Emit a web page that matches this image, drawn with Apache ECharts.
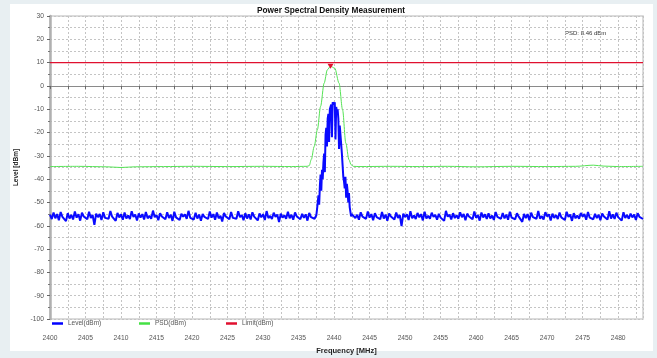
<!DOCTYPE html>
<html>
<head>
<meta charset="utf-8">
<title>Power Spectral Density Measurement</title>
<script src="https://cdn.jsdelivr.net/npm/echarts@6/dist/echarts.min.js"></script>
<style>
html, body { margin: 0; padding: 0; background: #e8eff2; }
#chart { width: 657px; height: 358px; }
</style>
</head>
<body>
<div id="chart"></div>
<script>
// level trace, noise floor left of the carrier (2400 .. 2437.25 MHz, 0.25 MHz step)
const levelLeftStart = 2400;
const levelLeftStep = 0.25;
const levelLeft = [
  -55.2,-57.1,-54.3,-56.8,-55.0,-57.6,-54.1,-56.2,-55.7,-58.0,
  -54.6,-56.9,-55.3,-57.3,-53.9,-56.5,-55.1,-57.8,-54.4,-56.0,
  -55.8,-57.2,-54.0,-56.7,-55.4,-59.6,-54.8,-56.3,-55.0,-57.5,
  -54.2,-56.6,-55.9,-57.0,-53.7,-56.1,-55.5,-57.9,-54.5,-56.4,
  -55.1,-57.4,-54.3,-56.9,-55.6,-57.1,-53.8,-56.2,-55.2,-57.7,
  -54.7,-56.5,-55.0,-57.3,-54.1,-56.8,-55.7,-57.0,-53.5,-56.3,
  -55.4,-57.6,-54.6,-56.0,-55.9,-57.2,-54.2,-56.7,-55.3,-57.9,
  -54.0,-56.4,-55.6,-57.5,-54.8,-56.1,-55.1,-57.0,-53.6,-56.6,
  -55.8,-57.3,-54.4,-56.9,-55.2,-57.8,-54.9,-56.2,-55.5,-57.1,
  -53.9,-56.5,-55.0,-57.4,-54.3,-56.8,-55.7,-58.2,-54.5,-56.0,
  -55.3,-57.2,-54.1,-56.6,-55.9,-57.0,-53.8,-56.3,-55.4,-57.6,
  -54.6,-56.9,-55.1,-57.3,-54.2,-56.1,-55.6,-57.7,-54.7,-56.4,
  -55.0,-57.5,-53.7,-56.7,-55.8,-57.1,-54.4,-56.2,-55.2,-58.4,
  -54.8,-56.5,-55.5,-57.0,-54.0,-56.8,-55.3,-57.4,-54.3,-56.0,
  -55.7,-57.2,-54.9,-56.6,-55.1,-57.8,-54.5,-56.3,-55.6,-57.0
];
// carrier (2437.5 .. 2442.5 MHz, 0.1 MHz step)
const levelSignalStart = 2437.5;
const levelSignalStep = 0.1;
const levelSignal = [
  -55.5,-53,-50,-47,-51,-43,-38,-45,-36,-40,
  -33,-29,-37,-21,-18,-26,-14,-12,-24,-10,
  -9,-8,-22,-7,-6.5,-8,-7,-23,-9,-11,
  -10,-14,-27,-17,-21,-25,-29,-34,-39,-41,
  -44,-39,-48,-42,-45,-50,-46,-52,-54,-56,
  -55
];
// noise floor right of the carrier (2442.75 .. 2483.5 MHz, 0.25 MHz step)
const levelRightStart = 2442.75;
const levelRightStep = 0.25;
const levelRight = [
  -54.9,-56.7,-55.3,-57.4,-54.2,-56.1,-55.8,-57.0,-53.9,-56.5,
  -55.0,-57.6,-54.6,-56.3,-55.5,-57.2,-54.1,-56.9,-55.2,-57.8,
  -54.7,-56.0,-55.9,-57.3,-54.3,-56.6,-55.4,-60.1,-54.8,-56.2,
  -55.1,-57.5,-53.8,-56.8,-55.6,-57.1,-54.5,-56.4,-55.0,-57.7,
  -54.0,-56.9,-55.7,-57.0,-54.4,-56.2,-55.3,-57.4,-54.9,-56.5,
  -55.8,-57.9,-53.6,-56.1,-55.2,-57.3,-54.6,-56.7,-55.5,-57.0,
  -54.2,-56.3,-55.0,-57.6,-54.8,-56.0,-55.9,-57.2,-53.9,-56.6,
  -55.4,-57.8,-54.3,-56.4,-55.1,-57.1,-54.7,-56.9,-55.6,-57.5,
  -54.1,-56.2,-55.7,-57.0,-54.5,-56.8,-55.2,-57.4,-54.0,-56.5,
  -55.8,-57.2,-54.6,-56.1,-55.3,-58.3,-54.9,-56.7,-55.0,-57.6,
  -54.4,-56.3,-55.5,-57.0,-53.7,-56.9,-55.9,-57.3,-54.2,-56.0,
  -55.1,-57.7,-54.8,-56.6,-55.4,-57.1,-54.3,-56.4,-55.7,-57.5,
  -54.0,-56.2,-55.2,-57.9,-54.6,-56.8,-55.6,-57.0,-54.5,-56.1,
  -55.0,-57.4,-54.1,-56.5,-55.8,-57.2,-54.9,-56.7,-55.3,-57.6,
  -54.7,-56.0,-55.5,-57.3,-53.8,-56.9,-55.1,-57.1,-54.4,-56.3,
  -55.9,-57.8,-54.2,-56.6,-55.4,-57.0,-54.8,-56.4,-55.2,-57.5,
  -54.6,-56.2,-55.7,-57.1
];

const psdFreq = [
  2400, 2404, 2408, 2410, 2412, 2416, 2420, 2425, 2430, 2434,
  2436.2, 2436.5, 2436.8, 2437.2, 2437.65, 2438.1, 2438.6, 2439.05, 2439.5, 2440.1,
  2440.7, 2441.2, 2441.65, 2442.1, 2442.4, 2442.7, 2443.5, 2448, 2452, 2456,
  2460, 2465, 2470, 2474, 2476.5, 2478, 2480, 2483.5
];
const psdDb = [
  -34.6, -34.5, -34.7, -35.0, -34.7, -34.6, -34.5, -34.6, -34.5, -34.6,
  -34.5, -34.2, -31.5, -26, -18.8, -8.8, 1.2, 6.9, 8.46, 7.6,
  1.2, -10.3, -24.5, -31.7, -33.8, -34.5, -34.6, -34.5, -34.6, -34.5,
  -34.7, -34.5, -34.6, -34.5, -34.0, -34.4, -34.6, -34.5
];

const limitFreq = [2400, 2483.5];
const limitDb = [10, 10];

const yTicks = [-100, 30, 10]; // min, max, step
const xTicks = [2400, 2483.5, 2.5];

const seriesNames = ["Level(dBm)", "PSD(dBm)", "Limit(dBm)"];
const psdText = "PSD: 8.46 dBm";

function toPairs(start, step, vals) {
  return vals.map((v, i) => [+(start + i * step).toFixed(2), v]);
}

const levelData = toPairs(levelLeftStart, levelLeftStep, levelLeft)
  .concat(toPairs(levelSignalStart, levelSignalStep, levelSignal))
  .concat(toPairs(levelRightStart, levelRightStep, levelRight));
const psdData = psdFreq.map((f, i) => [f, psdDb[i]]);
const limitData = limitFreq.map((f, i) => [f, limitDb[i]]);

const gridLine = { color: "#c4c4c4", width: 1, type: [2, 2] };
const font = "Liberation Sans, Arial, sans-serif";

// one legend per entry, spaced like the original
const legendLeft = [52, 139, 226];
const legends = seriesNames.map((n, i) => ({
  data: [n],
  left: legendLeft[i],
  top: 320,
  padding: 0,
  icon: "rect",
  itemWidth: 11,
  itemHeight: 2.5,
  textStyle: { fontSize: 6.5, color: "#555" }
}));

const myChart = echarts.init(document.getElementById("chart"));
myChart.setOption({
  animation: false,
  backgroundColor: "#e8eff2",
  textStyle: { fontFamily: font },
  title: {
    text: "Power Spectral Density Measurement",
    left: 257,
    top: 7,
    padding: 0,
    textStyle: { fontSize: 8.3, fontWeight: "bold", color: "#111" }
  },
  graphic: [
    {
      type: "rect",
      z: -10,
      shape: { x: 10, y: 4, width: 643, height: 347 },
      style: { fill: "#fff" }
    },
    {
      type: "text",
      x: 565,
      y: 33,
      style: { text: psdText, fontSize: 6, fill: "#333", verticalAlign: "middle", fontFamily: font }
    }
  ],
  legend: legends,
  grid: {
    left: 50,
    right: 14,
    top: 16,
    bottom: 39,
    outerBoundsMode: "none",
    show: true,
    borderColor: "#cfcfcf",
    borderWidth: 1.5
  },
  xAxis: {
    type: "value",
    min: xTicks[0],
    max: xTicks[1],
    interval: xTicks[2],
    offset: 10,
    name: "Frequency [MHz]",
    nameLocation: "middle",
    nameGap: 16,
    nameTextStyle: { fontSize: 7.5, fontWeight: "bold", color: "#222" },
    axisLine: { lineStyle: { color: "#8a8a8a", width: 1 } },
    axisTick: { length: 3, lineStyle: { color: "#666" } },
    axisLabel: {
      fontSize: 6.7,
      color: "#555",
      margin: 6,
      showMaxLabel: false,
      formatter: v => (v % 5 === 0 ? String(v) : "")
    },
    splitLine: { show: true, lineStyle: gridLine }
  },
  yAxis: {
    type: "value",
    min: yTicks[0],
    max: yTicks[1],
    interval: yTicks[2],
    name: "Level [dBm]",
    nameLocation: "middle",
    nameGap: 29,
    nameTextStyle: { fontSize: 6.5, fontWeight: "bold", color: "#222" },
    axisLine: { show: true, lineStyle: { color: "#b0b0b0", width: 2.5 } },
    axisTick: { show: true, length: 3, lineStyle: { color: "#666" } },
    minorTick: { show: true, splitNumber: 2, length: 2, lineStyle: { color: "#777" } },
    axisLabel: { fontSize: 6.7, color: "#555", margin: 6 },
    splitLine: { show: true, lineStyle: gridLine },
    minorSplitLine: { show: true, lineStyle: gridLine }
  },
  series: [
    {
      name: seriesNames[0],
      type: "line",
      data: levelData,
      showSymbol: false,
      symbol: "none",
      color: "#0000ff",
      lineStyle: { color: "#0a0aff", width: 2 }
    },
    {
      name: seriesNames[1],
      type: "line",
      data: psdData,
      showSymbol: false,
      symbol: "none",
      smooth: 0.3,
      smoothMonotone: "x",
      color: "#44e044",
      lineStyle: { color: "#55e355", width: 1 },
      markPoint: {
        data: [{ type: "max" }],
        symbol: "triangle",
        symbolRotate: 180,
        symbolSize: [6, 5],
        itemStyle: { color: "#e0102f" },
        label: { show: false }
      }
    },
    {
      name: seriesNames[2],
      type: "line",
      data: limitData,
      showSymbol: false,
      symbol: "none",
      color: "#e0102f",
      lineStyle: { color: "#e0102f", width: 1.3 }
    }
  ]
});
window.addEventListener("resize", () => {
  myChart.resize();
});
</script>
</body>
</html>
